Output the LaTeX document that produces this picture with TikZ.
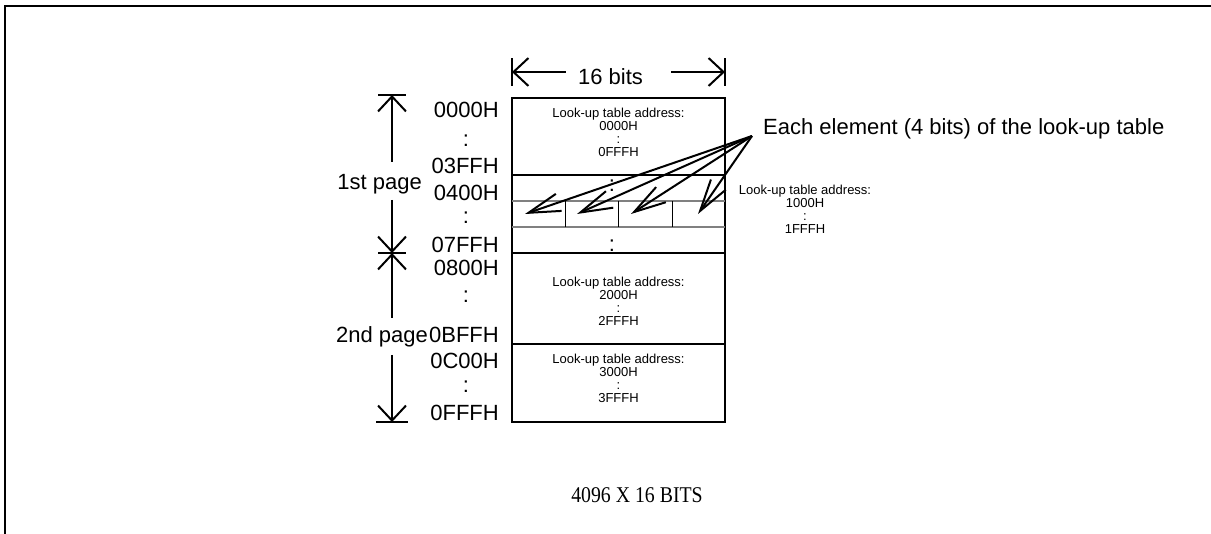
\documentclass[tikz,border=0pt]{standalone}
\usepackage{fontspec}
\setmainfont{Liberation Sans}
\newfontfamily\capfont{Liberation Serif}
\usetikzlibrary{arrows.meta}
\begin{document}
\begin{tikzpicture}[x=1pt,y=-1pt,
  big/.style={font=\fontsize{22}{26}\selectfont, inner sep=0pt},
  small/.style={font=\fontsize{13}{13}\selectfont, inner sep=0pt, align=center},
  thickline/.style={line width=2pt},
  grayline/.style={line width=1.5pt, draw=gray},
  cellline/.style={line width=1pt},
  ptr/.style={line width=2pt, -{Straight Barb[length=32pt,width=18pt]}},
  dim/.style={line width=2pt, -{Straight Barb[length=15pt,width=28pt]}},
  barline/.style={line width=2pt},
]
\useasboundingbox (0,0) rectangle (1211,534);
% frame
\draw[thickline] (5,534) -- (5,6) -- (1211,6);

% memory box
\draw[thickline] (512,98) rectangle (725,422);
\draw[thickline] (512,175) -- (725,175);
\draw[thickline] (512,253) -- (725,253);
\draw[thickline] (512,344) -- (725,344);
\draw[grayline] (512,201) -- (725,201);
\draw[grayline] (512,227) -- (725,227);
\foreach \xx in {565,618,672} \draw[cellline] (\xx,201) -- (\xx,227);

% box texts
\node[small] (b1) at (618.5,132.5) {Look-up table address:\\0000H\\:\\0FFFH};
\node[small] (b3) at (618.5,301.5) {Look-up table address:\\2000H\\:\\2FFFH};
\node[small] (b4) at (618.5,378.5) {Look-up table address:\\3000H\\:\\3FFFH};
\node[small] (b2) at (805,209.5) {Look-up table address:\\1000H\\:\\1FFFH};
\node[big, anchor=base] (c1) at (612,192) {:};
\node[big, anchor=base] (c2) at (612,252) {:};

% address labels
\node[big, anchor=base east] (a0) at (499,118) {0000H};
\node[big, anchor=base] (a1) at (466,147) {:};
\node[big, anchor=base east] (a2) at (499,174) {03FFH};
\node[big, anchor=base east] (a3) at (499,201) {0400H};
\node[big, anchor=base] (a4) at (466,224) {:};
\node[big, anchor=base east] (a5) at (499,253) {07FFH};
\node[big, anchor=base east] (a6) at (499,276) {0800H};
\node[big, anchor=base] (a7) at (466,303) {:};
\node[big, anchor=base east] (a8) at (499,343) {0BFFH};
\node[big, anchor=base east] (a9) at (499,369) {0C00H};
\node[big, anchor=base] (a10) at (466,393) {:};
\node[big, anchor=base east] (a11) at (499,421) {0FFFH};

% page labels
\node[big, anchor=base east] (p1) at (422,190) {1st page};
\node[big, anchor=base east] (p2) at (428,343) {2nd page};

% vertical page arrows
\coordinate (t1) at (392,95);
\coordinate (m1) at (392,253);
\coordinate (t2) at (392,422);
\coordinate (s1a) at (392,162);
\coordinate (s1b) at (392,200);
\coordinate (s2a) at (392,318);
\coordinate (s2b) at (392,355);
\draw[dim] (s1a) -- (t1);
\draw[dim] (s1b) -- (m1);
\draw[dim] (s2a) -- (m1);
\draw[dim] (s2b) -- (t2);
\draw[barline] ([xshift=-14pt]t1) -- ([xshift=14pt]t1);
\draw[barline] ([xshift=-14pt]m1) -- ([xshift=14pt]m1);
\draw[barline] ([xshift=-16pt]t2) -- ([xshift=16pt]t2);

% 16 bits dimension
\node[big] (w) at (610.5,77) {16 bits};
\coordinate (wl) at (512,72);
\coordinate (wr) at (725,72);
\draw[dim] (w.west) ++(-12,-5) coordinate (wla) -- (wl);
\draw[dim] (w.east) ++(28,-5) coordinate (wra) -- (wr);
\draw[barline] ([yshift=-14pt]wl) -- ([yshift=14pt]wl);
\draw[barline] ([yshift=-14pt]wr) -- ([yshift=14pt]wr);

% element pointers
\node[big, anchor=base west] (ee) at (763,135) {Each element (4 bits) of the look-up table};
\coordinate (apex) at (752,136);
\coordinate (e1) at (525,214);
\coordinate (e2) at (577,214);
\coordinate (e3) at (631,214);
\coordinate (e4) at (698,214);
\draw[ptr] (apex) -- (e1);
\draw[ptr] (apex) -- (e2);
\draw[ptr] (apex) -- (e3);
\draw[ptr] (apex) -- (e4);

% caption
\node[font=\capfont\fontsize{22.5}{26}\selectfont, inner sep=0pt] (cap) at (637,495) {\scalebox{0.88}[1]{4096 X 16 BITS}};
\end{tikzpicture}
\end{document}
